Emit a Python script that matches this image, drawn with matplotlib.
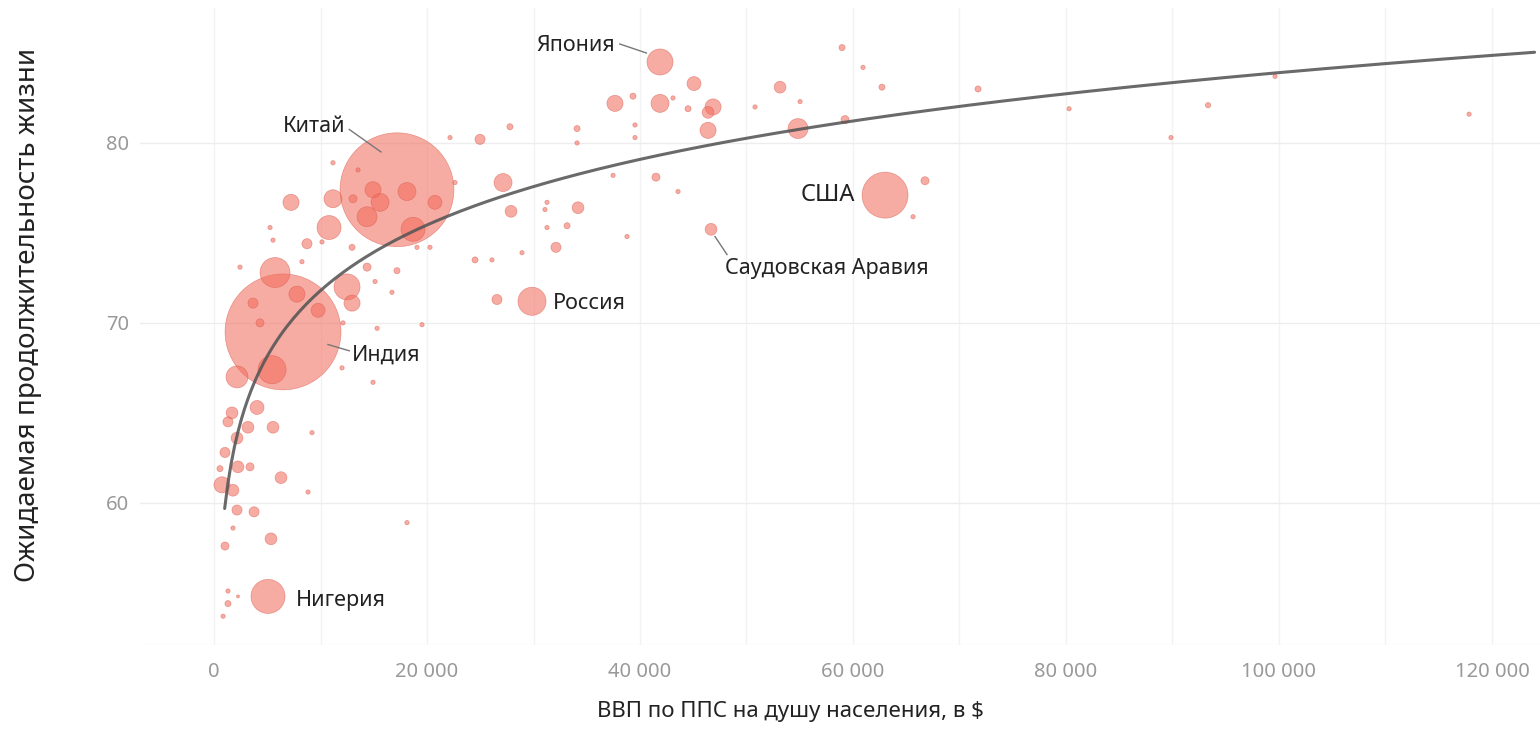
import numpy as np
import matplotlib
matplotlib.use("Agg")
import matplotlib.pyplot as plt

plt.rcParams['font.family'] = ['Noto Sans', 'DejaVu Sans']

# ---- data: GDP per capita (PPP, $), life expectancy (years), population (visual, mln) ----
gdp = [17180, 6480, 63010, 5070, 29860, 41880, 46670,
       7230, 11170, 10800, 11170, 5260, 5540, 8730, 8260, 2440, 5730, 7790, 3660, 4320,
       12490, 12960, 9770, 12110, 15310, 19530, 14370, 17180, 16710, 15120, 12960, 10140,
       22630, 14930, 15590, 14370, 18120, 20750, 18690, 13050, 13520, 20280, 19060,
       2160, 5450, 4040, 1690, 1310, 3190, 5540, 2160, 1030, 2250, 560, 3380, 750, 1780,
       6290, 8830, 9200, 12020, 2160, 3760, 1780, 1030, 5350, 1310, 1310, 850, 2250, 18120,
       45070, 37650, 41880, 39340, 43100, 46860, 46390, 46390, 44510, 39530, 39530, 50800,
       34090, 34090, 27790, 24980, 22160, 27140, 27890, 31270, 31080, 34180, 33150, 31270,
       37470, 41500, 43570, 38780, 32110, 28920, 24510, 26100, 26570,
       53150, 55030, 58970, 60940, 62720, 54840, 59250, 66760, 65640,
       71740, 80290, 93340, 89860, 99630, 117850, 14930]
life = [77.4, 69.5, 77.1, 54.8, 71.2, 84.5, 75.2,
        76.7, 76.9, 75.3, 78.9, 75.3, 74.6, 74.4, 73.4, 73.1, 72.8, 71.6, 71.1, 70.0,
        72.0, 71.1, 70.7, 70.0, 69.7, 69.9, 73.1, 72.9, 71.7, 72.3, 74.2, 74.5,
        77.8, 77.4, 76.7, 75.9, 77.3, 76.7, 75.2, 76.9, 78.5, 74.2, 74.2,
        67.0, 67.4, 65.3, 65.0, 64.5, 64.2, 64.2, 63.6, 62.8, 62.0, 61.9, 62.0, 61.0, 60.7,
        61.4, 60.6, 63.9, 67.5, 59.6, 59.5, 58.6, 57.6, 58.0, 55.1, 54.4, 53.7, 54.8, 58.9,
        83.3, 82.2, 82.2, 82.6, 82.5, 82.0, 81.7, 80.7, 81.9, 81.0, 80.3, 82.0,
        80.8, 80.0, 80.9, 80.2, 80.3, 77.8, 76.2, 76.7, 76.3, 76.4, 75.4, 75.3,
        78.2, 78.1, 77.3, 74.8, 74.2, 73.9, 73.5, 73.5, 71.3,
        83.1, 82.3, 85.3, 84.2, 83.1, 80.8, 81.3, 77.9, 75.9,
        83.0, 81.9, 82.1, 80.3, 83.7, 81.6, 66.7]
pop = [1400, 1450, 228, 125, 85, 73, 15,
       28, 35, 62, 2, 2, 2, 11, 2, 2, 97, 28, 11, 7,
       73, 28, 21, 2, 2, 2, 7, 4, 2, 2, 4, 2,
       2, 28, 35, 43, 35, 21, 62, 7, 2, 2, 2,
       52, 85, 21, 15, 11, 15, 15, 15, 11, 15, 4, 7, 28, 15,
       15, 2, 2, 2, 11, 11, 2, 7, 15, 2, 4, 2, 1, 2,
       21, 28, 35, 4, 2, 28, 15, 28, 4, 2, 2, 2,
       4, 2, 4, 11, 2, 35, 15, 2, 2, 15, 4, 2,
       2, 7, 2, 2, 11, 2, 4, 2, 11,
       15, 2, 4, 2, 4, 43, 7, 7, 2,
       4, 2, 3, 2, 2, 2, 2]

# trend line: life = a + b * ln(gdp)
trend_a = 23.35
trend_b = 5.26
trend_range = [1000, 124000]

x_ticks = [0, 20000, 40000, 60000, 80000, 100000, 120000]
x_tick_labels = ['0', '20 000', '40 000', '60 000', '80 000', '100 000', '120 000']
y_ticks = [60, 70, 80]

# labels: (text, x, y, ha, leader (x0, y0, x1, y1) or None, fontsize)
labels = [
    ('Китай', 12300, 80.9, 'right', (12700, 80.75, 15680, 79.5), 15.5),
    ('Япония', 37650, 85.4, 'right', (38100, 85.5, 40600, 85.0), 15.5),
    ('Индия', 12960, 68.2, 'left', (10700, 68.8, 12700, 68.45), 15.5),
    ('Саудовская Аравия', 47980, 73.05, 'left', (47040, 74.8, 48170, 73.8), 15.5),
    ('США', 60190, 77.1, 'right', None, 17),
    ('Россия', 31830, 71.1, 'left', None, 15.5),
    ('Нигерия', 7700, 54.6, 'left', None, 15.5),
]

fig = plt.figure(figsize=(15.4, 7.49), dpi=100)
ax = fig.add_axes([140 / 1540, 104 / 749, 1400 / 1540, 637 / 749])
ax.set_xlim(-6950, 124510)
ax.set_ylim(52.1, 87.5)

# grid
for gx in range(0, 130000, 10000):
    ax.axvline(gx, color='#f2f2f2', lw=1.0, zorder=0)
for gy in y_ticks:
    ax.axhline(gy, color='#ededed', lw=1.0, zorder=0)
ax.axhline(52.1, color='#f2f2f2', lw=1.0, zorder=0)

gdp_a = np.array(gdp)
life_a = np.array(life)
pop_a = np.array(pop)
order = np.argsort(-pop_a)
ax.scatter(gdp_a[order], life_a[order], s=pop_a[order] * 4.8,
           color='#F26B5B', alpha=0.56, edgecolors=(0.85, 0.35, 0.3, 0.12),
           linewidths=0.5, zorder=2)

tx = np.linspace(trend_range[0], trend_range[1], 400)
ax.plot(tx, trend_a + trend_b * np.log(tx), color='#555555', lw=2.2, alpha=0.88,
        zorder=3, solid_capstyle='round')

for txt, lx, ly, ha, leader, fs in labels:
    ax.text(lx, ly, txt, ha=ha, va='center', fontsize=fs, color='#222222', zorder=4)
    if leader is not None:
        ax.plot([leader[0], leader[2]], [leader[1], leader[3]], color='#777777',
                lw=1.0, zorder=4)

ax.set_xticks(x_ticks)
ax.set_xticklabels(x_tick_labels)
ax.set_yticks(y_ticks)
ax.tick_params(axis='both', length=0, labelsize=14.5, labelcolor='#999999')
ax.tick_params(axis='x', pad=12)
ax.tick_params(axis='y', pad=8)
for sp in ax.spines.values():
    sp.set_visible(False)

fig.text(790 / 1540, 1 - 712 / 749, 'ВВП по ППС на душу населения, в $',
         ha='center', va='center', fontsize=16, color='#222222')
fig.text(28 / 1540, 1 - 315 / 749, 'Ожидаемая продолжительность жизни',
         ha='center', va='center', rotation=90, fontsize=20, color='#222222')

fig.savefig('out.png', dpi=100, facecolor='white')
